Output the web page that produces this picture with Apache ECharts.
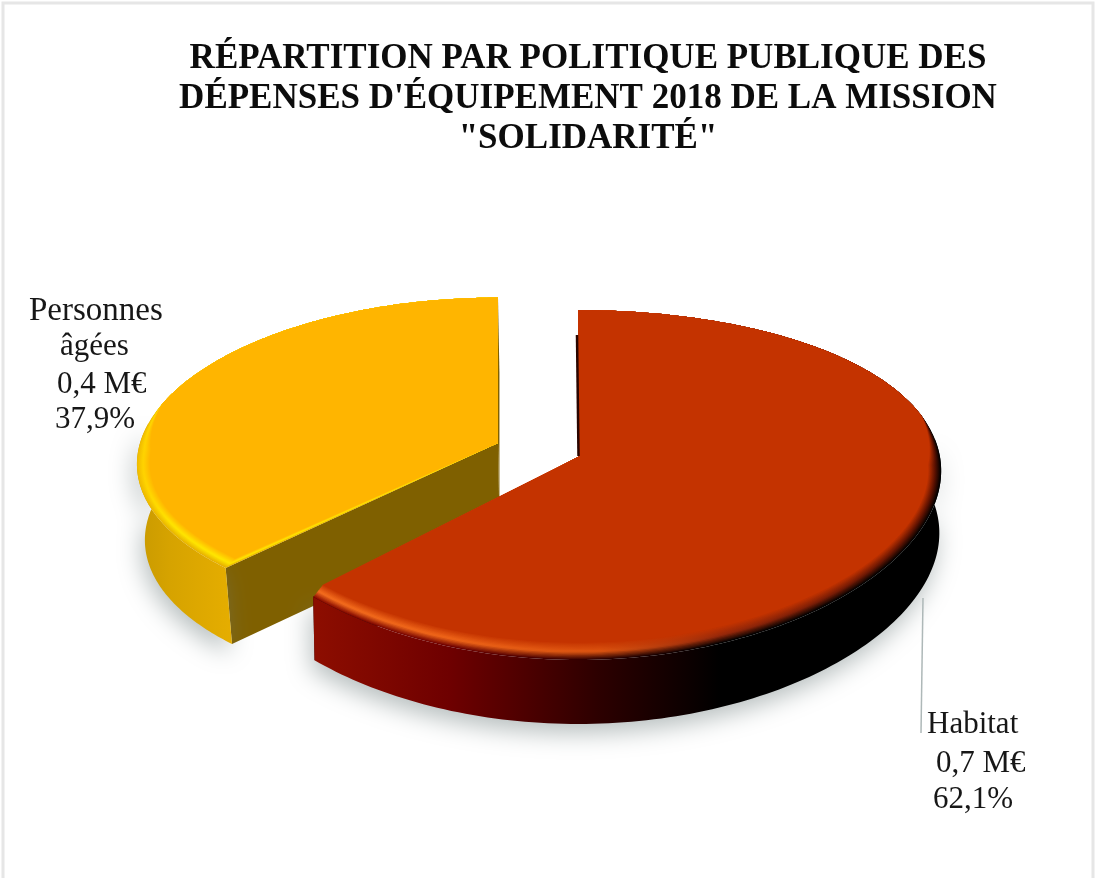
<!DOCTYPE html>
<html><head><meta charset="utf-8">
<style>html,body{margin:0;padding:0;background:#fff}#c{width:1097px;height:878px}</style>
<script src="https://cdn.jsdelivr.net/npm/echarts@6/dist/echarts.min.js"></script>
</head><body><div id="c"></div>
<script>
// ---- data ----
const titleLines = ['RÉPARTITION PAR POLITIQUE PUBLIQUE DES', "DÉPENSES D'ÉQUIPEMENT 2018 DE LA MISSION", '"SOLIDARITÉ"'];
const categories = ['Habitat', 'Personnes âgées'];
const amounts = [0.7, 0.4];
const shares = [62.1, 37.9];

// ---- layout & styling ----
const serif = '"Liberation Serif","Times New Roman",serif';
const proj = [
  {cx:578, cy:457, A:362, a:170.5, bx:0.08, by:0.16, d0:62, d1:2, lean:0.005, sx:0.035, sy:0.085},
  {cx:498, cy:443, A:358, a:160,   bx:0.13, by:0.10, d0:76, d1:0, lean:0.018, sx:0.035, sy:0.075}
];
const looks = [
  {top:'#c43300', cut:'#1a0000', xs:[318,450,600,720,940],
   wall:['#8c0d00','#6e0000','#2c0000','#000000','#000000'],
   outer:['#8c0d00','#6e0000','#2c0000','#000000','#000000'],
   rim:['#f56e1e','#f06618','#dc5410','#96280a','#5a1000']},
  {top:'#ffb500', cut:'#7f6000', xs:[138,170,235],
   wall:['#c99a00','#d6a300','#e6ae00'],
   outer:['#f0bc00','#e8b400','#e6ae00'],
   rim:['#ffd000','#ffe400','#ffe800']}
];
const labelLines = [
  [{x:927,y:725,s:31},{x:936,y:764,s:31},{x:933,y:800,s:31}],
  [{x:29,y:311,s:33},{x:60,y:347,s:31},{x:57,y:385,s:31},{x:55,y:420,s:31}]
];
const fmtAmount = v => String(v).replace('.', ',') + ' M€';
const fmtShare = v => v.toFixed(1).replace('.', ',') + '%';
function labelTexts(i){
  return categories[i].split(' ').concat([fmtAmount(amounts[i]), fmtShare(shares[i])]);
}
function pt(p, t){
  const u = Math.sin(t), v = -Math.cos(t);
  return {x:p.cx + p.A*u/(1-p.bx*v), y:p.cy + p.a*v/(1-p.by*v), v};
}
function down(p, q){
  return [q.x + (578-q.x)*p.lean, q.y + p.d0 + p.d1*q.v];
}
function grad(xs, cols){
  const x0 = xs[0], x1 = xs[xs.length-1];
  return {type:'linear', x:x0, y:0, x2:x1, y2:0, global:true,
    colorStops:xs.map((x,k)=>({offset:(x-x0)/(x1-x0), color:cols[k]}))};
}
const lerp = (a,b,f) => echarts.color.lerp(f,[a,b]);
function bevelColours(L, s){
  // s=0 outer (wall colour), s=0.45 bright band, s=1 plain top colour
  return L.xs.map((x,k)=> s<0.45 ? lerp(L.outer[k],L.rim[k],s/0.45)
                                 : lerp(L.rim[k],L.top,(s-0.45)/0.55));
}
function sliceRender(i){
  return function(params, api){
    const share = api.value(0);
    let before = 0; for(let k=0;k<i;k++) before += shares[k];
    const t0 = before/100*2*Math.PI, t1 = (before+share)/100*2*Math.PI;
    const p = proj[i], L = looks[i];
    const arc = [];
    const N = 200;
    for(let k=0;k<=N;k++) arc.push(pt(p, t0+(t1-t0)*k/N));
    const apex = {x:p.cx, y:p.cy, v:0};
    const front = arc.filter(q=>q.v>-0.12);
    const lower = front.map(q=>down(p,q));
    const wallPts = front.map(q=>[q.x,q.y]).concat(lower.slice().reverse());
    const children = [];
    // cut faces
    [arc[arc.length-1], arc[0]].forEach(q=>{
      children.push({type:'polygon', shape:{points:[[apex.x,apex.y],[q.x,q.y],down(p,q),down(p,apex)]},
        style:{fill:L.cut}});
    });
    // outer wall with its soft ground shadow
    children.push({type:'polygon', shape:{points:wallPts}, style:{
      fill:grad(L.xs,L.wall),
      shadowBlur:24, shadowColor:'rgba(110,125,125,0.5)', shadowOffsetY:9, shadowOffsetX:-3}});
    // top face with bevel: stacked insets going wall colour -> bright band -> top colour
    const layers = 14;
    for(let n=0;n<=layers;n++){
      const s = n/layers;
      const pts = [[apex.x,apex.y]].concat(arc.map(q=>{
        const w = s*Math.min(1,Math.max(0,(q.v+0.25)/0.3));
        return [p.cx+(q.x-p.cx)*(1-p.sx*w), p.cy+(q.y-p.cy)*(1-p.sy*w)];
      }));
      children.push({type:'polygon', shape:{points:pts}, style:{
        fill:n===layers ? L.top : grad(L.xs,bevelColours(L,s))}});
    }
    if(i===0){
      const q = arc[0];
      children.push({type:'line', shape:{x1:q.x-1,y1:q.y+25,x2:apex.x+0.5,y2:apex.y-1},
        style:{stroke:'#2a0500', lineWidth:2.5}});
    }
    // labels
    labelTexts(i).forEach((s,k)=>{
      const pos = labelLines[i][k];
      children.push({type:'text', style:{x:pos.x, y:pos.y, text:s, fill:'#171717',
        font:pos.s+'px '+serif, textAlign:'left', textVerticalAlign:'middle'}});
    });
    if(i===0){
      children.push({type:'line', shape:{x1:923,y1:598,x2:921,y2:733},
        style:{stroke:'#aeb8b8', lineWidth:1.5}});
    }
    return {type:'group', children};
  };
}
const chart = echarts.init(document.getElementById('c'), null, {renderer:'canvas'});
chart.setOption({
  animation:false,
  backgroundColor:'#ffffff',
  title:{
    text:titleLines.join('\n'), left:583, top:34, textAlign:'center',
    textStyle:{fontFamily:serif, fontWeight:'bold', fontSize:35, lineHeight:40, color:'#0c0c0c'}
  },
  graphic:[{type:'rect', silent:true, z:-1, shape:{x:3,y:3,width:1090,height:885},
    style:{fill:'none', stroke:'#e6e6e6', lineWidth:3}}],
  series:categories.map((name,i)=>({
    type:'custom', name, coordinateSystem:'none', z:i===0?3:2,
    renderItem:sliceRender(i), data:[{name, value:[shares[i], amounts[i]]}]
  }))
});
</script></body></html>
